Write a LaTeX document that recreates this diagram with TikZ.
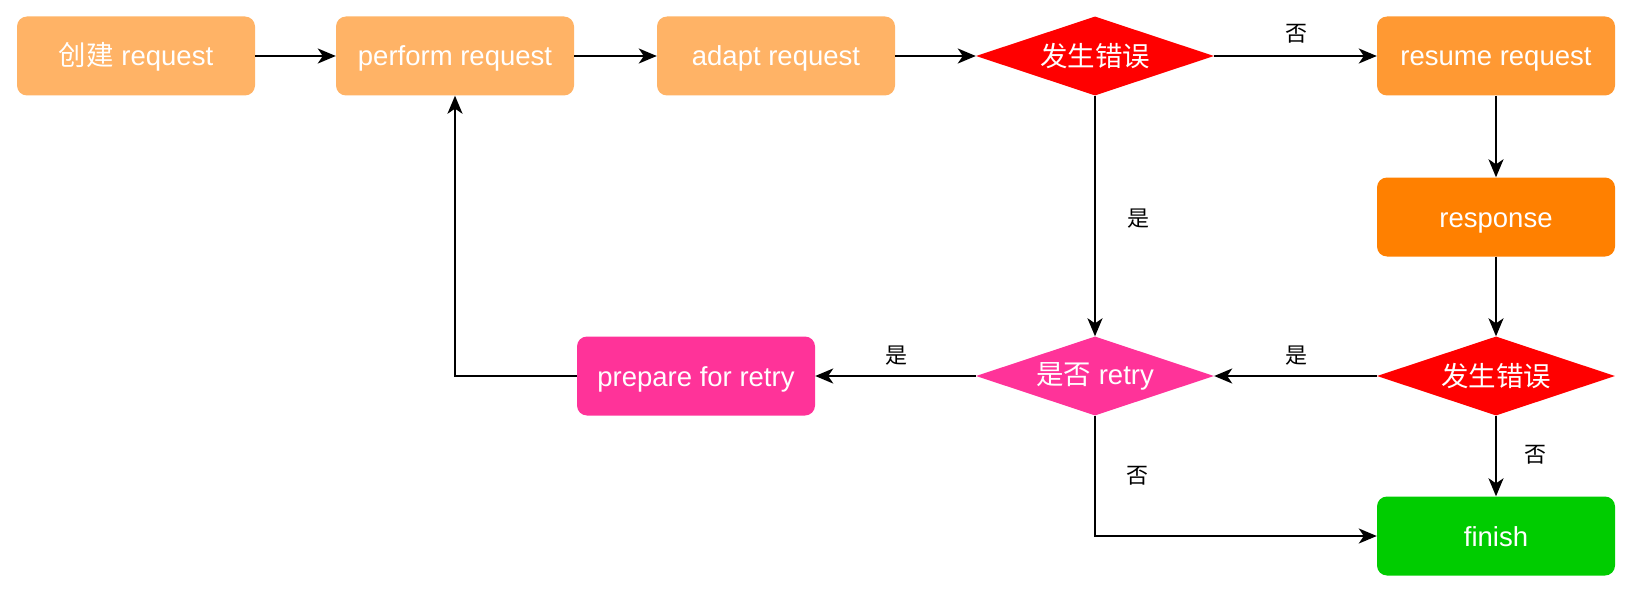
\documentclass[tikz,border=0pt]{standalone}
\usepackage{fontspec}
\setmainfont{Liberation Sans}
\newfontfamily\cjk{Noto Sans CJK SC}
\usetikzlibrary{arrows.meta,shapes.geometric}
\definecolor{lorange}{HTML}{FFB366}
\definecolor{morange}{HTML}{FF9933}
\definecolor{dorange}{HTML}{FF8000}
\definecolor{dred}{HTML}{FF0000}
\definecolor{dpink}{HTML}{FF3399}
\definecolor{dgreen}{HTML}{00CC00}
\begin{document}
\begin{tikzpicture}[x=1pt,y=-1pt,
  box/.style={rectangle, rounded corners=10pt, minimum width=238pt, minimum height=79pt, inner sep=0pt, text=white, font=\fontsize{27.5}{32}\selectfont, text height=27pt, text depth=7pt},
  dia/.style={diamond, minimum width=238pt, minimum height=79pt, inner sep=0pt, text=white, font=\fontsize{27.5}{32}\selectfont},
  arr/.style={line width=2pt, -{Stealth[length=18pt,width=15pt,inset=5pt]}},
  lbl/.style={font=\cjk\fontsize{22}{24}\selectfont, text=black, inner sep=0pt}
]
\useasboundingbox (0,0) rectangle (1634,594);

\node[box, fill=lorange] (create) at (136,56) {{\cjk 创建} request};
\node[box, fill=lorange] (perform) at (455,56) {perform request};
\node[box, fill=lorange] (adapt) at (776,56) {adapt request};
\node[dia, fill=dred] (err1) at (1095,56) {\makebox[0pt]{\cjk 发生错误}};
\node[box, fill=morange] (resume) at (1496,56) {resume request};
\node[box, fill=dorange] (resp) at (1496,217) {response};
\node[dia, fill=dred] (err2) at (1496,376) {\makebox[0pt]{\cjk 发生错误}};
\node[box, fill=dgreen] (finish) at (1496,536) {finish};
\node[dia, fill=dpink] (retry) at (1095,376) {\makebox[0pt]{{\cjk 是否} retry}};
\node[box, fill=dpink] (prep) at (696,376) {prepare for retry};

\draw[arr] (create) -- (perform);
\draw[arr] (perform) -- (adapt);
\draw[arr] (adapt) -- (err1);
\draw[arr] (err1) -- (resume);
\draw[arr] (resume) -- (resp);
\draw[arr] (resp) -- (err2);
\draw[arr] (err2) -- (finish);
\draw[arr] (err2) -- (retry);
\draw[arr] (err1) -- (retry);
\draw[arr] (retry) -- (prep);
\draw[arr] (retry.south) |- (finish.west);
\draw[arr] (prep.west) -| (perform.south);

\node[lbl] (l1) at (1296,34) {否};
\node[lbl] (l2) at (1138,219) {是};
\node[lbl] (l3) at (1296,356) {是};
\node[lbl] (l4) at (896,356) {是};
\node[lbl] (l5) at (1137,476) {否};
\node[lbl] (l6) at (1535,455) {否};
\end{tikzpicture}
\end{document}
